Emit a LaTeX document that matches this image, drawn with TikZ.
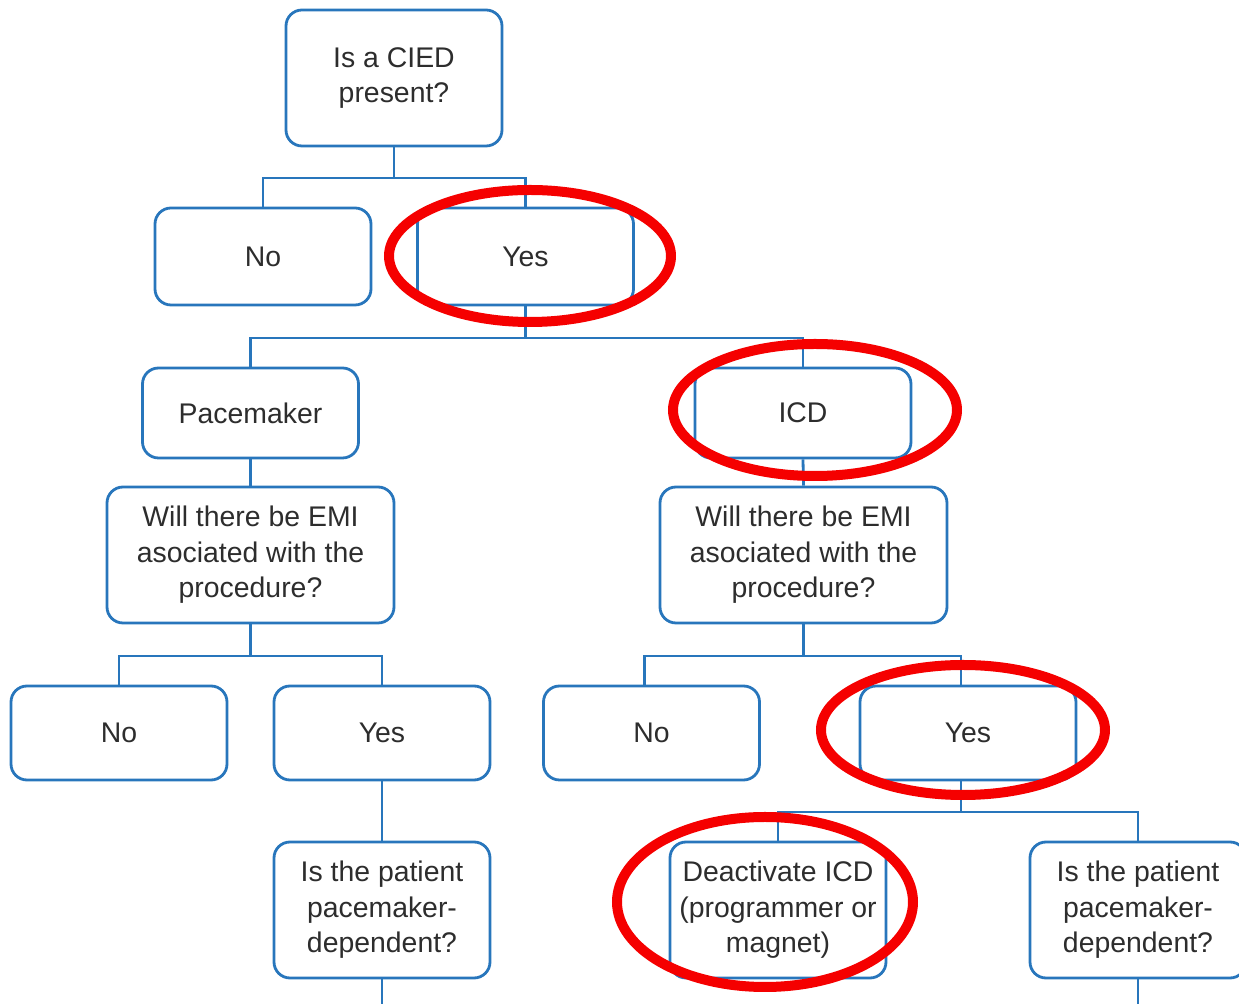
\documentclass[tikz,border=0pt]{standalone}
\usepackage{fontspec}
\setmainfont{Liberation Sans}
\definecolor{cblue}{RGB}{40,118,188}
\definecolor{ctext}{RGB}{45,45,45}
\definecolor{cred}{RGB}{245,0,0}
\begin{document}
\begin{tikzpicture}[x=0.5pt,y=-0.5pt,
  box/.style={draw=cblue, line width=1.4pt, rounded corners=8pt, align=center,
    inner sep=0pt, text=ctext, font=\fontsize{14.2}{17.7}\selectfont, fill=white},
  w/.style={minimum width=108pt},
  conn/.style={draw=cblue, line width=1.4pt},
  ring/.style={draw=cred, line width=5pt}]
\useasboundingbox (0,0) rectangle (1239,1004);
% nodes
\node[box,w,minimum height=68pt] (top) at (394,78) {Is a CIED\\present?};
\node[box,w,minimum height=48.5pt] (no1) at (263,256.5) {No};
\node[box,w,minimum height=48.5pt] (yes1) at (525.5,256.5) {Yes};
\node[box,w,minimum height=45pt] (pm) at (250.5,413) {Pacemaker};
\node[box,w,minimum height=45pt] (icd) at (803,413) {ICD};
\node[box,minimum width=143.5pt,minimum height=68pt] (emiL) at (250.5,555) {Will there be EMI\\asociated with the\\procedure?};
\node[box,minimum width=143.5pt,minimum height=68pt] (emiR) at (803.5,555) {Will there be EMI\\asociated with the\\procedure?};
\node[box,w,minimum height=47pt] (no2) at (119,733) {No};
\node[box,w,minimum height=47pt] (yes2) at (382,733) {Yes};
\node[box,w,minimum height=47pt] (no3) at (651.5,733) {No};
\node[box,w,minimum height=47pt] (yes3) at (968,733) {Yes};
\node[box,w,minimum height=68pt] (depL) at (382,910) {Is the patient\\pacemaker-\\dependent?};
\node[box,w,minimum height=68pt] (deact) at (778,910) {Deactivate ICD\\(programmer or\\magnet)};
\node[box,w,minimum height=68pt] (depR) at (1138,910) {Is the patient\\pacemaker-\\dependent?};
% junctions
\coordinate (j1) at (394,178);
\coordinate (j2) at (525.5,338);
\coordinate (j3) at (250.5,656);
\coordinate (j4) at (803.5,656);
\coordinate (j5) at (961,812);
\coordinate (endL) at (382,1010);
\coordinate (endR) at (1138,1010);
% connectors
\draw[conn] (top.south) -- (j1);
\draw[conn] (no1.north) |- (j1) -| (yes1.north);
\draw[conn] (yes1.south) -- (j2);
\draw[conn] (pm.north) |- (j2) -| (icd.north);
\draw[conn] (pm.south) -- (emiL.north);
\draw[conn] (icd.south) -- (emiR.north);
\draw[conn] (emiL.south) -- (j3);
\draw[conn] (no2.north) |- (j3) -| (yes2.north);
\draw[conn] (yes2.south) -- (depL.north);
\draw[conn] (emiR.south) -- (j4);
\draw[conn] ([xshift=-3.5pt]no3.north) |- (j4) -| ([xshift=-3.5pt]yes3.north);
\draw[conn] ([xshift=-3.5pt]yes3.south) -- (j5);
\draw[conn] (deact.north) |- (j5) -| (depR.north);
\draw[conn] (depL.south) -- (endL);
\draw[conn] (depR.south) -- (endR);
% red highlight ellipses
\draw[ring] (530,256) ellipse [x radius=70.5pt, y radius=33pt];
\draw[ring] (815,410) ellipse [x radius=71pt, y radius=33pt];
\draw[ring] (963,730) ellipse [x radius=71pt, y radius=32.5pt];
\draw[ring] (765,902) ellipse [x radius=74pt, y radius=42.5pt];
\end{tikzpicture}
\end{document}
